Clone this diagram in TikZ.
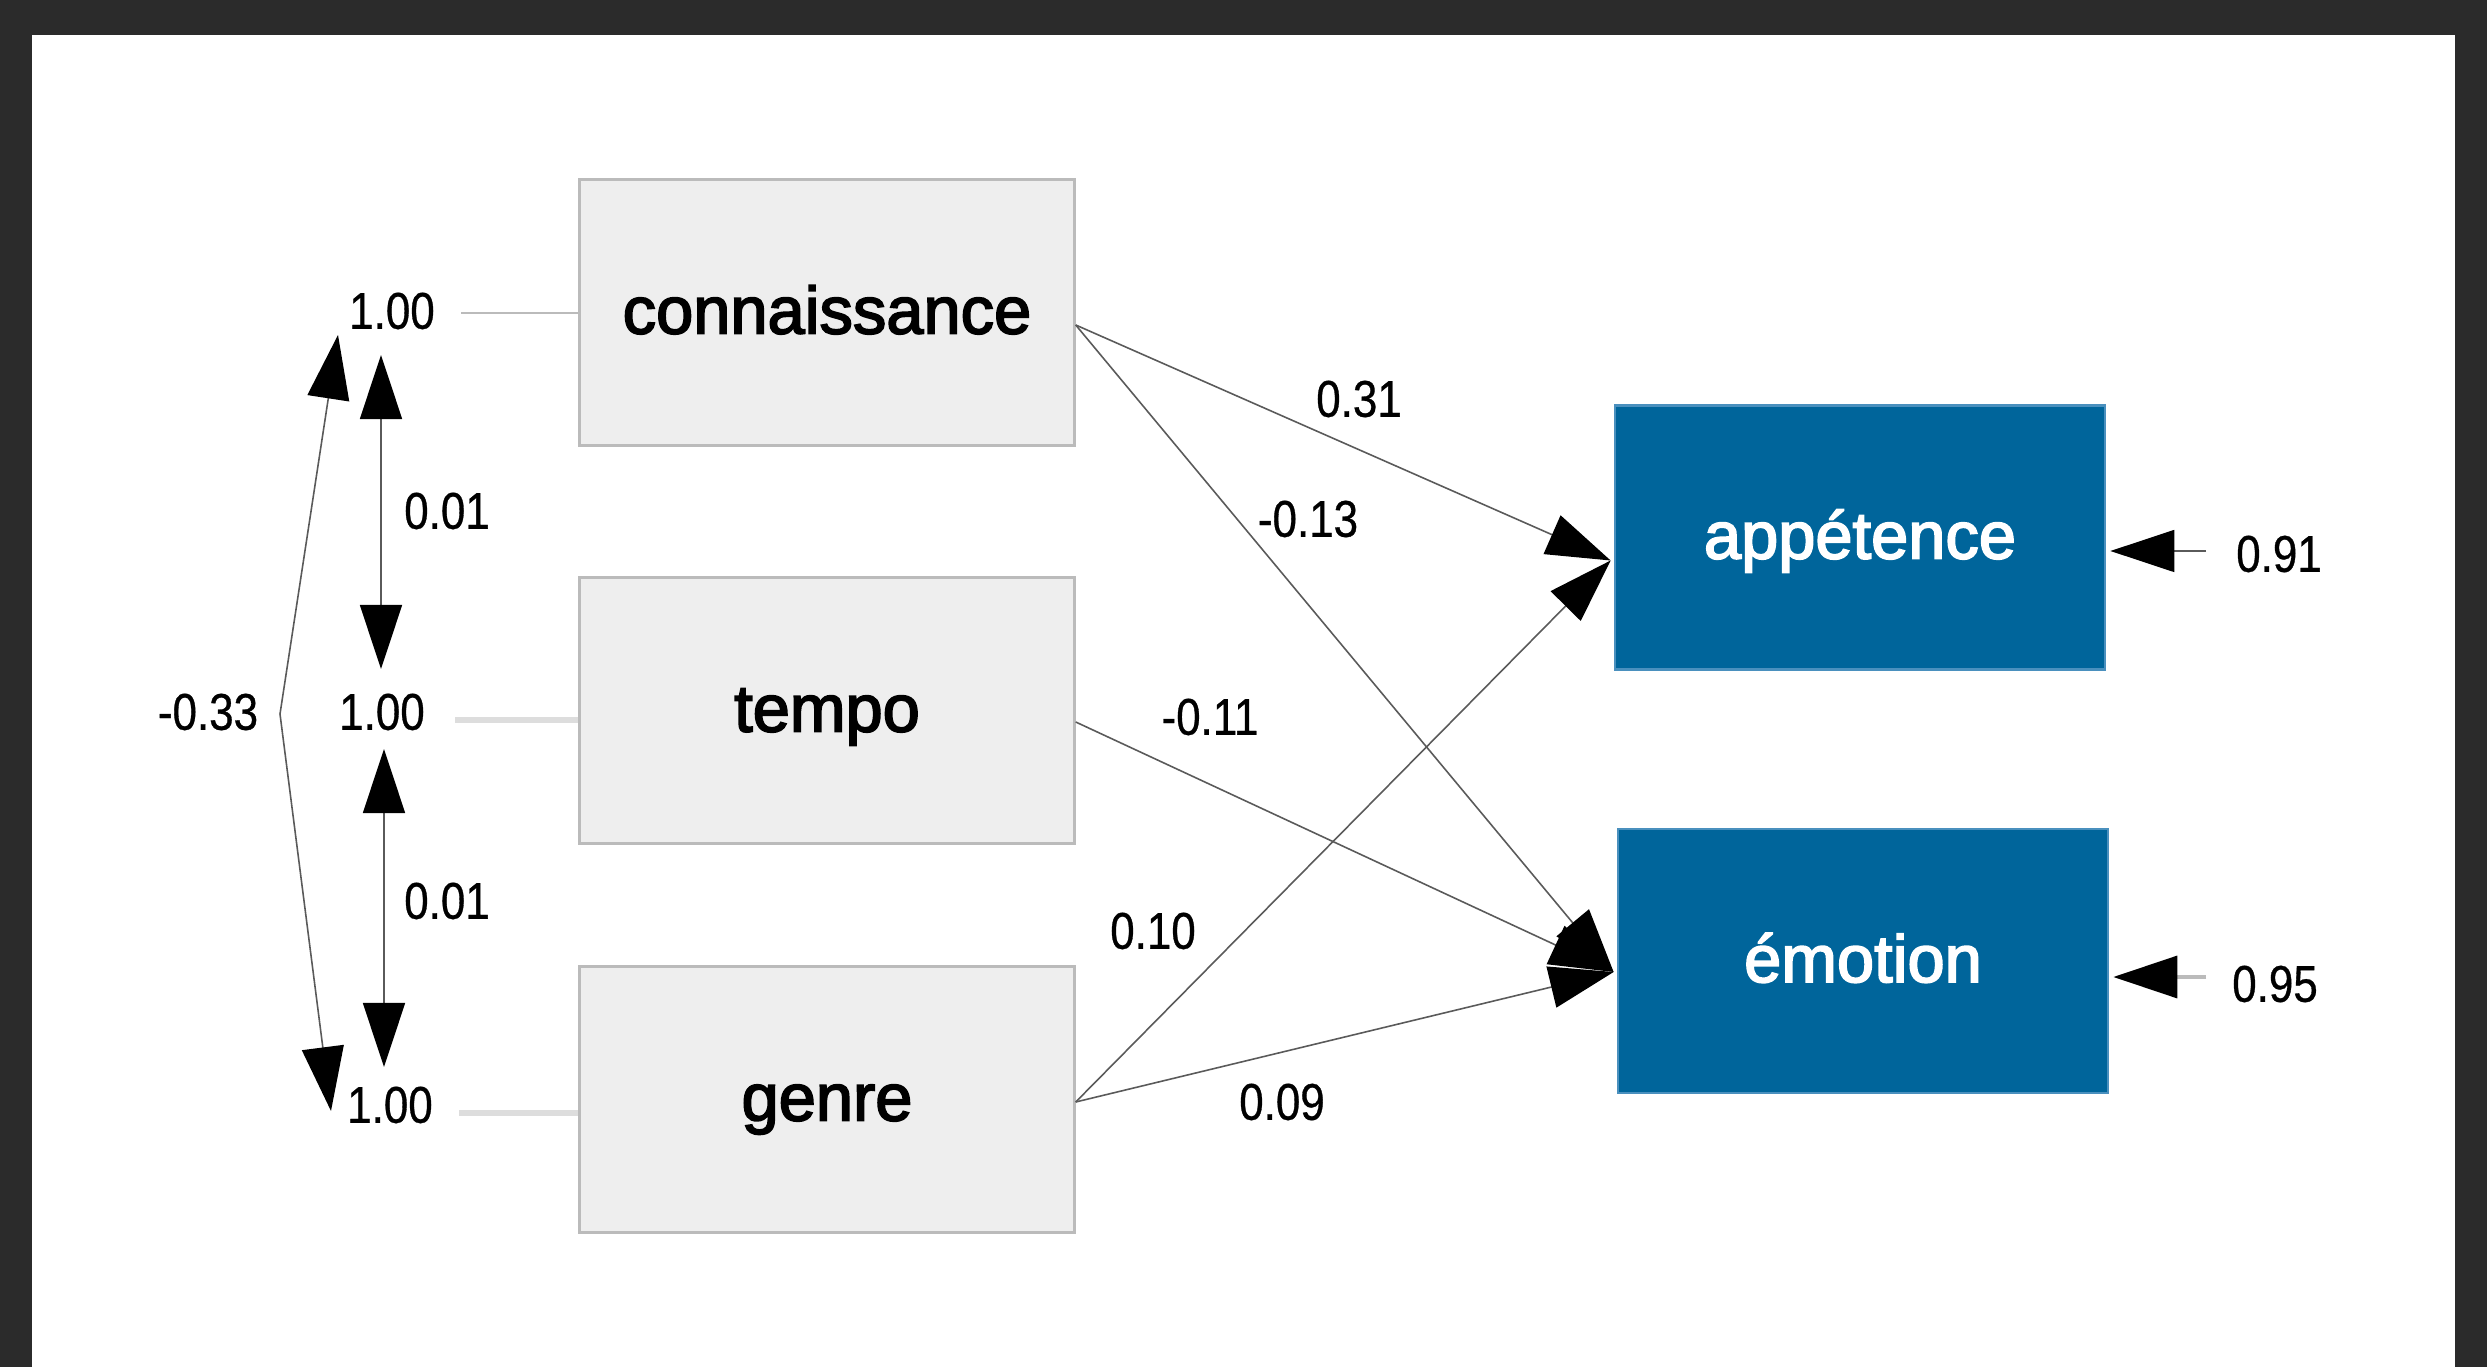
\documentclass[tikz,border=0pt]{standalone}
\usepackage{fontspec}
\setmainfont{Liberation Sans}
\newfontfamily\numfont[FakeStretch=0.85,FakeBold=0.6]{Liberation Sans}
\newfontfamily\boxfont[FakeBold=2.6]{Liberation Sans}
\usetikzlibrary{arrows.meta,calc}
\definecolor{framecol}{HTML}{2B2B2B}
\definecolor{boxgrey}{HTML}{EEEEEE}
\definecolor{boxline}{HTML}{BBBBBB}
\definecolor{bluefill}{HTML}{00659B}
\definecolor{blueline}{HTML}{4A90BE}
\definecolor{pathline}{HTML}{5A5A5A}
\definecolor{lightline}{HTML}{DDDDDD}
\begin{document}
\begin{tikzpicture}[x=0.01cm,y=-0.01cm,
  exo/.style={draw=boxline, line width=0.9pt, fill=boxgrey, minimum width=4.94cm, minimum height=2.66cm, inner sep=0pt, text height=14pt, text depth=2pt, font=\boxfont\fontsize{19}{22}\selectfont},
  endo/.style={draw=blueline, line width=0.7pt, fill=bluefill, text=white, minimum width=4.9cm, minimum height=2.64cm, inner sep=0pt, text height=14pt, text depth=2pt, font=\boxfont\fontsize{19}{22}\selectfont},
  num/.style={font=\numfont\fontsize{14.7}{17}\selectfont, inner sep=0pt},
  pathline/.style={draw=pathline, line width=0.45pt, -{Triangle[length=0.64cm,width=0.42cm,color=black]}},
  covline/.style={draw=pathline, line width=0.45pt, {Triangle[length=0.64cm,width=0.42cm,color=black]}-{Triangle[length=0.64cm,width=0.42cm,color=black]}}
]
% frame
\fill[framecol] (0,0) rectangle (2487,1367);
\fill[white] (32,35) rectangle (2455,1367);
\useasboundingbox (0,0) rectangle (2487,1367);

% exogenous boxes
\node[exo] (conn) at (827,312.5) {connaissance};
\node[exo] (tempo) at (827,710.5) {tempo};
\node[exo] (genre) at (827,1099.5) {genre};
% endogenous boxes
\node[endo] (app) at (1860,537.5) {appétence};
\node[endo] (emo) at (1863,961) {émotion};

% variance labels
\node[num] (v1) at (392,311) {1.00};
\node[num] (v2) at (382,712) {1.00};
\node[num] (v3) at (390,1105) {1.00};

\draw[boxline, line width=0.6pt] ($(v1.east)+(26,2)$) -- (conn.west |- {$(v1.east)+(26,2)$});
\draw[lightline, line width=1.7pt] ($(v2.east)+(30,8)$) -- (tempo.west |- {$(v2.east)+(30,8)$});
\draw[lightline, line width=1.7pt] ($(v3.east)+(26,8)$) -- (genre.west |- {$(v3.east)+(26,8)$});

% covariances
\coordinate (a1t) at (381,355);
\coordinate (a1b) at (381,669);
\coordinate (a2t) at (384,749);
\coordinate (a2b) at (384,1067);
\draw[covline] (a1t) -- (a1b);
\draw[covline] (a2t) -- (a2b);
\node[num] (c1) at (447,511) {0.01};
\node[num] (c2) at (447,901) {0.01};

\coordinate (q1) at (338,335);
\coordinate (q2) at (280,714);
\coordinate (q3) at (331,1111);
\draw[covline] (q1) -- (q2) -- (q3);
\node[num] (c3) at (208,712) {-0.33};

% paths
\coordinate (sC) at ($(conn.east)+(0,12.5)$);
\coordinate (sT) at ($(tempo.east)+(0,11.5)$);
\coordinate (sG) at ($(genre.east)+(0,2.5)$);
\coordinate (tA) at ($(app.west)+(-3,23)$);
\coordinate (tE) at ($(emo.west)+(-3,11)$);
\draw[pathline] (sC) -- (tA);
\draw[pathline] (sC) -- (tE);
\draw[pathline] (sT) -- (tE);
\draw[pathline] (sG) -- (tA);
\draw[pathline] (sG) -- (tE);
\node[num] (p1) at (1359,399) {0.31};
\node[num] (p2) at (1308,519) {-0.13};
\node[num] (p3) at (1210,717) {-0.11};
\node[num] (p4) at (1153,931) {0.10};
\node[num] (p5) at (1282,1102) {0.09};

% residuals
\coordinate (rA) at (2206,551);
\coordinate (rE) at (2206,977);
\draw[pathline] (rA) -- ($(app.east)+(4,13.5)$);
\draw[pathline, draw=boxline, line width=1pt] (rE) -- ($(emo.east)+(4,16)$);
\node[num] (e1) at (2279,554) {0.91};
\node[num] (e2) at (2275,984) {0.95};
\end{tikzpicture}
\end{document}
